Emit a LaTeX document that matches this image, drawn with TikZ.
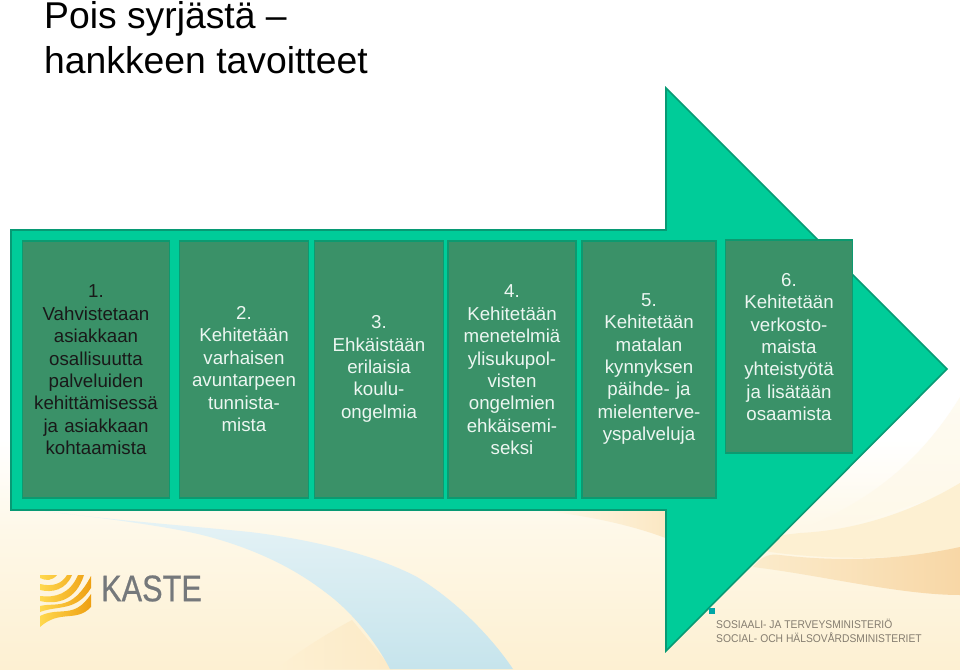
\documentclass[tikz,border=0pt]{standalone}
\usepackage{fontspec}
\setmainfont{Liberation Sans}
\newfontfamily\kastefont[FakeBold=0.6]{Liberation Sans}
\begin{document}
\begin{tikzpicture}[x=1pt,y=-1pt,
  arrowshape/.style={fill=arrowgreen,draw=arrowedge,line width=1.6pt,line join=miter},
  card/.style={fill=cardgreen,draw=cardedge,line width=1.8pt,inner sep=0pt},
  cardtext/.style={align=center,font=\fontsize{18.7}{22.4}\selectfont,text width=#1,inner sep=0pt},
]
\definecolor{arrowgreen}{HTML}{00CC99}
\definecolor{arrowedge}{HTML}{079A74}
\definecolor{cardgreen}{HTML}{3A9168}
\definecolor{cardedge}{HTML}{0C9A70}
\definecolor{cardink}{HTML}{ECF6F1}
\definecolor{cream}{HTML}{FDF0D2}
\definecolor{creamlight}{HTML}{FEF8E8}
\definecolor{bandpale}{HTML}{FBEBCB}
\definecolor{banddeep}{HTML}{F8D7A6}
\definecolor{skypale}{HTML}{E6F3F6}
\definecolor{skydeep}{HTML}{C6E4EC}
\definecolor{kastegray}{HTML}{75787B}
\definecolor{ministry}{HTML}{857D70}
\definecolor{logoA}{HTML}{FFD84E}
\definecolor{logoB}{HTML}{EE9F12}
\useasboundingbox (0,0) rectangle (960,669);
\fill[white] (0,0) rectangle (960,669);
% background
\shade[top color=white,bottom color=creamlight] (0,440) rectangle (960,530);
\shade[top color=creamlight,bottom color=cream] (0,530) rectangle (960,669);
% right-hand swathes
\shade[top color=creamlight!60!white,bottom color=creamlight] (960,397) .. controls (915,470) and (860,505) .. (800,530) -- (800,540) -- (960,490) -- cycle;
\fill[cream] (800,533) .. controls (860,530) and (915,510) .. (960,483) -- (960,550) .. controls (900,560) and (830,560) .. (770,552) -- (740,540) -- cycle;
\shade[left color=bandpale,right color=banddeep] (753,567) .. controls (760,558) and (768,553) .. (780,555) .. controls (840,562) and (900,560) .. (960,547) -- (960,595) .. controls (900,595) and (820,575) .. (753,567) -- cycle;
% peach patches
\shade[left color=creamlight,right color=banddeep!35!cream] (545,511) .. controls (590,516) and (635,526) .. (668,539) -- (668,511) -- cycle;
\shade[left color=cream,right color=banddeep!25!cream] (277,669) .. controls (300,650) and (330,632) .. (352,620) -- (392,669) -- cycle;
% pale-blue ribbon
\shade[top color=skypale,bottom color=skydeep] (45,511) .. controls (110,520) and (190,526) .. (250,532) .. controls (300,538) and (370,552) .. (417,577) .. controls (455,600) and (490,635) .. (513,669) -- (390,669) .. controls (375,640) and (350,610) .. (325,592) .. controls (290,565) and (250,548) .. (210,537) .. controls (170,526) and (100,518) .. (45,511) -- cycle;
% big arrow
\path[arrowshape] (11,230) -- (666,230) -- (666,88) -- (947,369) -- (666,651) -- (666,510) -- (11,510) -- cycle;
% cards
\node[card,minimum width=147pt,minimum height=257pt] (c1) at (96,369.5) {};
\node[card,minimum width=129pt,minimum height=257pt] (c2) at (244,369.5) {};
\node[card,minimum width=129pt,minimum height=257pt] (c3) at (379,369.5) {};
\node[card,minimum width=128pt,minimum height=257pt] (c4) at (512,369.5) {};
\node[card,minimum width=134pt,minimum height=257pt] (c5) at (649,369.5) {};
\node[card,minimum width=127pt,minimum height=213pt] (c6) at (789,346.5) {};
% texts
\node[cardtext=146pt,text=black!90] (t1) at (96,370) {1.\\Vahvistetaan\\asiakkaan\\osallisuutta\\palveluiden\\kehittämisessä\\ja asiakkaan\\kohtaamista};
\node[cardtext=129pt,text=cardink] (t2) at (244,369) {2.\\Kehitetään\\varhaisen\\avuntarpeen\\tunnista-\\mista};
\node[cardtext=129pt,text=cardink] (t3) at (379,369) {3.\\Ehkäistään\\erilaisia\\koulu-\\ongelmia};
\node[cardtext=128pt,text=cardink] (t4) at (512,370) {4.\\Kehitetään\\menetelmiä\\ylisukupol-\\visten\\ongelmien\\ehkäisemi-\\seksi};
\node[cardtext=134pt,text=cardink] (t5) at (649,369) {5.\\Kehitetään\\matalan\\kynnyksen\\päihde- ja\\mielenterve-\\yspalveluja};
\node[cardtext=126pt,text=cardink] (t6) at (789,347) {6.\\Kehitetään\\verkosto-\\maista\\yhteistyötä\\ja lisätään\\osaamista};
% title
\node[anchor=west,inner sep=0pt,font=\fontsize{37.3}{44.5}\selectfont,align=left,text=black] (title) at (44,37.5) {Pois syrjästä –\\hankkeen tavoitteet};
% KASTE logo
\shade[left color=logoA,right color=logoB]
 (40,575) -- (57,575) .. controls (52,581) and (46,581) .. (40,578) -- cycle
 (40,584) .. controls (52,587) and (62,584) .. (67,575) -- (72,575) .. controls (66,590) and (52,593) .. (40,590) -- cycle
 (40,596) .. controls (55,598) and (70,594) .. (78,575) -- (84,575) .. controls (76,600) and (58,605) .. (40,601) -- cycle
 (40,606) .. controls (56,602) and (72,612) .. (91,576) -- (91,588) .. controls (76,612) and (58,605) .. (40,612) -- cycle
 (40,616) .. controls (60,606) and (74,620) .. (91,594) -- (91,607) .. controls (76,623) and (60,609) .. (40,627) -- cycle;
\node[anchor=west,inner sep=0pt,font=\kastefont\fontsize{37}{37}\selectfont,text=kastegray,xscale=.83] (kaste) at (101,588.5) {KASTE};
% ministry
\fill[teal!70!cyan] (709,608) rectangle (715,614);
\node[anchor=north west,inner sep=0pt,align=left,font=\fontsize{11.2}{14.6}\selectfont,text=ministry,xscale=.92] (min) at (716,618.5) {SOSIAALI- JA TERVEYSMINISTERIÖ\\SOCIAL- OCH HÄLSOVÅRDSMINISTERIET};
\end{tikzpicture}
\end{document}
